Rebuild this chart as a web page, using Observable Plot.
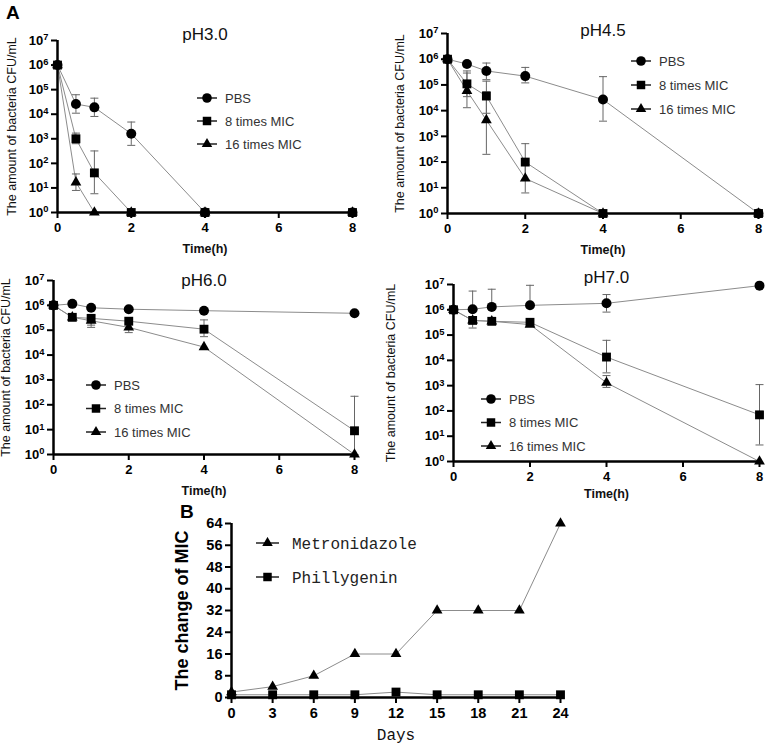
<!DOCTYPE html>
<html><head><meta charset="utf-8">
<script src="https://cdn.jsdelivr.net/npm/d3@7"></script>
<script src="https://cdn.jsdelivr.net/npm/@observablehq/plot@0.6"></script>
<style>
body{margin:0;background:#fff;}
#fig{position:relative;width:768px;height:749px;overflow:hidden;background:#fff;font-family:"Liberation Sans",Arial,sans-serif;color:#000;}
.panel{position:absolute;}
.panel svg{overflow:visible;background:transparent;}
.pA [aria-label="y-axis tick label"] text,.pA [aria-label="x-axis tick label"] text{font-weight:bold;font-size:13px;fill:#000;}
.pA [aria-label="y-axis label"] text{font-size:12.5px;fill:#111;}
.pA [aria-label="x-axis label"] text{font-size:12.5px;font-weight:bold;fill:#111;}
.pB [aria-label="y-axis tick label"] text,.pB [aria-label="x-axis tick label"] text{font-weight:bold;font-size:14.5px;fill:#000;}
.pB [aria-label="y-axis label"] text{font-family:"Liberation Sans Narrow","Liberation Sans",sans-serif;font-size:18px;font-weight:bold;fill:#000;}
.pB [aria-label="x-axis label"] text{font-family:"Liberation Mono",monospace;font-size:16px;fill:#111;}
.letter{position:absolute;font-weight:bold;font-size:19px;}
.legend{position:absolute;}
</style>
</head><body><div id="fig"></div>
<script>
// ---------- data ----------
const times = [0, 0.5, 1, 2, 4, 8];
const timeTicks = [0, 2, 4, 6, 8];
const cfuTicks = [1, 1e1, 1e2, 1e3, 1e4, 1e5, 1e6, 1e7];
const seriesNames = ["PBS", "8 times MIC", "16 times MIC"];
const panelTitles = ["pH3.0", "pH4.5", "pH6.0", "pH7.0"];

// pH3.0
const pH30_PBS   = [1e6, 2.6e4, 1.9e4, 1.6e3, 1, 1];
const pH30_PBS_hi= [null, 6.2e4, 4.5e4, 4.8e3, null, null];
const pH30_PBS_lo= [null, 1.1e4, 8.1e3, 5.4e2, null, null];
const pH30_M8    = [1e6, 1.0e3, 41, 1, 1, 1];
const pH30_M8_hi = [null, 1.7e3, 3.2e2, null, null, null];
const pH30_M8_lo = [null, 6.3e2, 5.8, null, null, null];
const pH30_M16   = [1e6, 17, 1, 1, 1, 1];
const pH30_M16_hi= [null, 37, null, null, null, null];
const pH30_M16_lo= [null, 7.9, null, null, null, null];

// pH4.5
const pH45_PBS   = [1e6, 6.5e5, 3.5e5, 2.2e5, 2.7e4, 1];
const pH45_PBS_hi= [null, null, 7.1e5, 4.8e5, 2.1e5, null];
const pH45_PBS_lo= [null, null, 1.6e5, 1.2e5, 3.9e3, null];
const pH45_M8    = [1e6, 1.1e5, 3.7e4, 1.0e2, 1, 1];
const pH45_M8_hi = [null, 3.5e5, 1.4e5, 5.2e2, null, null];
const pH45_M8_lo = [null, 3.5e4, 7.9e3, 20, null, null];
const pH45_M16   = [1e6, 5.9e4, 4.3e3, 23, 1, 1];
const pH45_M16_hi= [null, 2.9e5, 5.4e4, 80, null, null];
const pH45_M16_lo= [null, 1.3e4, 2.0e2, 6.3, null, null];

// pH6.0
const pH60_PBS   = [1e6, 1.15e6, 8e5, 7e5, 6.1e5, 4.8e5];
const pH60_PBS_hi= [null, null, null, null, null, null];
const pH60_PBS_lo= [null, null, null, null, null, null];
const pH60_M8    = [1e6, 3.3e5, 3.0e5, 2.3e5, 1.1e5, 9];
const pH60_M8_hi = [null, null, 4.0e5, null, 2.6e5, 2.2e2];
const pH60_M8_lo = [null, null, 1.6e5, null, 5.5e4, 1];
const pH60_M16   = [1e6, 3.3e5, 2.4e5, 1.3e5, 2.1e4, 1];
const pH60_M16_hi= [null, null, null, 1.9e5, null, null];
const pH60_M16_lo= [null, null, 1.3e5, 8.0e4, null, null];

// pH7.0
const pH70_PBS   = [1e6, 1.05e6, 1.3e6, 1.5e6, 1.8e6, 9e6];
const pH70_PBS_hi= [null, 5.5e6, 6.5e6, 9.3e6, 4.0e6, null];
const pH70_PBS_lo= [null, null, null, null, 8.1e5, null];
const pH70_M8    = [1e6, 3.8e5, 3.5e5, 3.2e5, 1.35e4, 70];
const pH70_M8_hi = [null, null, null, null, 6.2e4, 1.1e3];
const pH70_M8_lo = [null, 1.9e5, null, 2.5e5, 3.2e3, 4.5];
const pH70_M16   = [1e6, 3.8e5, 3.5e5, 2.6e5, 1.3e3, 1];
const pH70_M16_hi= [null, null, null, null, 2.5e3, null];
const pH70_M16_lo= [null, null, null, null, 8.5e2, null];

// Panel B
const days = [0, 3, 6, 9, 12, 15, 18, 21, 24];
const micTicks = [0, 8, 16, 24, 32, 40, 48, 56, 64];
const metronidazole = [2, 4, 8, 16, 16, 32, 32, 32, 64];
const phillygenin = [1, 1, 1, 1, 2, 1, 1, 1, 1];
const drugNames = ["Metronidazole", "Phillygenin"];

// ---------- helpers ----------
const fig = document.getElementById("fig");
const expFmt = d => "10^" + Math.round(Math.log10(d));
const capSymbol = {draw(ctx, size){ const w = Math.sqrt(size / Math.PI); ctx.moveTo(-w, 0); ctx.lineTo(w, 0); }};
const symbolFor = {"PBS": "circle", "8 times MIC": "square", "16 times MIC": "triangle"};
const d3SymbolFor = {"PBS": d3.symbolCircle, "8 times MIC": d3.symbolSquare, "16 times MIC": d3.symbolTriangle};
const drawOrder = ["PBS", "16 times MIC", "8 times MIC"];

function rowsOf(series){
  const rows = [];
  series.forEach(([name, v, hi, lo]) => {
    times.forEach((t, i) => rows.push({t, v: v[i], hi: hi[i], lo: lo[i], s: name}));
  });
  return rows;
}

// turn "10^7" tick labels into 10 with a raised exponent
function superscript(svg){
  d3.select(svg).selectAll('[aria-label="y-axis tick label"] text').each(function(){
    const t = d3.select(this); const s = t.text();
    if (!s.includes("^")) return;
    const [base, exp] = s.split("^");
    t.text(base);
    t.append("tspan").attr("dy", "-0.45em").style("font-size", "72%").text(exp);
  });
  return svg;
}

function place(node, cls, left, top){
  const div = document.createElement("div");
  div.className = "panel " + cls;
  div.style.left = left + "px"; div.style.top = top + "px";
  div.appendChild(node); fig.appendChild(div);
}

function legend(names, symMap, left, top, rowGap, opts){
  const o = Object.assign({lineW: 20, textX: 28, font: "13px 'Liberation Sans',Arial,sans-serif", color: "#333"}, opts || {});
  const w = 220, h = rowGap * names.length + 10;
  const svg = d3.create("svg").attr("width", w).attr("height", h);
  names.forEach((n, i) => {
    const y = 6 + i * rowGap;
    const g = svg.append("g").attr("transform", `translate(0,${y})`);
    g.append("line").attr("x1", 0).attr("x2", o.lineW).attr("y1", 0).attr("y2", 0).attr("stroke", "#222").attr("stroke-width", 1.5);
    const size = symMap[n] === d3.symbolTriangle ? 48 : 72;
    g.append("path").attr("d", d3.symbol(symMap[n], size)()).attr("transform", `translate(${o.lineW/2},0)`).attr("fill", "#000");
    g.append("text").attr("x", o.textX).attr("y", 0).attr("dy", "0.35em").attr("fill", o.color).style("font", o.font).text(n);
  });
  const div = document.createElement("div");
  div.className = "legend";
  div.style.left = left + "px"; div.style.top = (top - 6) + "px";
  div.appendChild(svg.node()); fig.appendChild(div);
}

function timeKill(cfg){
  const rows = rowsOf(cfg.series);
  const dots = drawOrder.flatMap(n => rows.filter(r => r.s === n));
  const errs = rows.filter(r => r.hi != null || r.lo != null).map(r => ({t: r.t, hi: r.hi ?? r.v, lo: r.lo ?? r.v, hasHi: r.hi != null, hasLo: r.lo != null}));
  return superscript(Plot.plot({
    width: 384, height: 260,
    marginLeft: cfg.ml, marginRight: cfg.mr, marginTop: cfg.mt, marginBottom: cfg.mb,
    style: {background: "transparent", color: "#000", fontFamily: "'Liberation Sans',Arial,sans-serif"},
    x: {domain: [0, 8], ticks: timeTicks},
    y: {type: "log", domain: [1, 1e7], ticks: cfuTicks, tickFormat: expFmt},
    symbol: {domain: seriesNames, range: seriesNames.map(n => symbolFor[n])},
    marks: [
      Plot.line(rows, {x: "t", y: "v", z: "s", stroke: "#8c8c8c", strokeWidth: 1}),
      Plot.ruleX(errs, {x: "t", y1: "lo", y2: "hi", stroke: "#666", strokeWidth: 1}),
      Plot.dot(errs.filter(e => e.hasHi), {x: "t", y: "hi", symbol: capSymbol, r: 4, stroke: "#666", strokeWidth: 1}),
      Plot.dot(errs.filter(e => e.hasLo), {x: "t", y: "lo", symbol: capSymbol, r: 4, stroke: "#666", strokeWidth: 1}),
      Plot.ruleY([1], {stroke: "#000", strokeWidth: 2.5}),
      Plot.ruleX([0], {stroke: "#000", strokeWidth: 2.5}),
      Plot.dot(dots.filter(d => d.s === "PBS"), {x: "t", y: "v", symbol: "s", fill: "#000", stroke: "none", r: 5}),
      Plot.dot(dots.filter(d => d.s === "16 times MIC"), {x: "t", y: "v", symbol: "s", fill: "#000", stroke: "none", r: 4}),
      Plot.dot(dots.filter(d => d.s === "8 times MIC"), {x: "t", y: "v", symbol: "s", fill: "#000", stroke: "none", r: 5}),
      Plot.axisX({ticks: timeTicks, tickSize: 6, tickPadding: 4, strokeWidth: 2, label: "Time(h)", labelAnchor: "center", labelArrow: "none", labelOffset: cfg.xlo}),
      Plot.axisY({ticks: cfuTicks, tickFormat: expFmt, tickSize: 6, tickPadding: 3, strokeWidth: 2, label: "The amount of bacteria CFU/mL", labelAnchor: "center", labelArrow: "none", labelOffset: cfg.ylo}),
      Plot.text([cfg.title], {frameAnchor: "top", lineAnchor: "middle", dy: cfg.tdy, fontSize: 17, fill: "#111", text: d => d})
    ]
  }));
}

// ---------- panels A ----------
place(timeKill({
  title: panelTitles[0], ml: 57, mr: 32, mt: 40, mb: 48, xlo: 40, ylo: 50, tdy: -6,
  series: [["PBS", pH30_PBS, pH30_PBS_hi, pH30_PBS_lo], ["8 times MIC", pH30_M8, pH30_M8_hi, pH30_M8_lo], ["16 times MIC", pH30_M16, pH30_M16_hi, pH30_M16_lo]]
}), "pA", 0, 0);
legend(seriesNames, d3SymbolFor, 197, 98, 23);

place(timeKill({
  title: panelTitles[1], ml: 63, mr: 10, mt: 33, mb: 47, xlo: 40, ylo: 52, tdy: -3,
  series: [["PBS", pH45_PBS, pH45_PBS_hi, pH45_PBS_lo], ["8 times MIC", pH45_M8, pH45_M8_hi, pH45_M8_lo], ["16 times MIC", pH45_M16, pH45_M16_hi, pH45_M16_lo]]
}), "pA", 384, 0);
legend(seriesNames, d3SymbolFor, 631, 61, 24);

place(timeKill({
  title: panelTitles[2], ml: 53, mr: 30, mt: 40, mb: 46, xlo: 40, ylo: 52, tdy: 0,
  series: [["PBS", pH60_PBS, pH60_PBS_hi, pH60_PBS_lo], ["8 times MIC", pH60_M8, pH60_M8_hi, pH60_M8_lo], ["16 times MIC", pH60_M16, pH60_M16_hi, pH60_M16_lo]]
}), "pA", 0, 240);
legend(seriesNames, d3SymbolFor, 86, 385, 23.5);

place(timeKill({
  title: panelTitles[3], ml: 69, mr: 9, mt: 44, mb: 39, xlo: 36, ylo: 67, tdy: -7,
  series: [["PBS", pH70_PBS, pH70_PBS_hi, pH70_PBS_lo], ["8 times MIC", pH70_M8, pH70_M8_hi, pH70_M8_lo], ["16 times MIC", pH70_M16, pH70_M16_hi, pH70_M16_lo]]
}), "pA", 384, 240);
legend(seriesNames, d3SymbolFor, 481, 399, 23.5);

// ---------- panel B ----------
const bRows = [];
days.forEach((d, i) => bRows.push({d, v: metronidazole[i], s: drugNames[0]}));
days.forEach((d, i) => bRows.push({d, v: phillygenin[i], s: drugNames[1]}));
place(Plot.plot({
  width: 420, height: 259, marginLeft: 51, marginRight: 40, marginTop: 33, marginBottom: 52,
  style: {background: "transparent", color: "#000", fontFamily: "'Liberation Sans',Arial,sans-serif"},
  x: {domain: [0, 24], ticks: days},
  y: {domain: [0, 64], ticks: micTicks},
  symbol: {domain: drugNames, range: ["triangle", "square"]},
  marks: [
    Plot.line(bRows, {x: "d", y: "v", z: "s", stroke: "#8c8c8c", strokeWidth: 1}),
    Plot.ruleY([0], {stroke: "#000", strokeWidth: 2.5}),
    Plot.ruleX([0], {stroke: "#000", strokeWidth: 2.5}),
    Plot.dot(bRows.filter(r => r.s === drugNames[0]), {x: "d", y: "v", symbol: "s", fill: "#000", stroke: "none", r: 4}),
    Plot.dot(bRows.filter(r => r.s === drugNames[1]), {x: "d", y: "v", symbol: "s", fill: "#000", stroke: "none", r: 5}),
    Plot.axisX({ticks: days, tickSize: 6, tickPadding: 4, strokeWidth: 2, label: "Days", labelAnchor: "center", labelArrow: "none", labelOffset: 42}),
    Plot.axisY({ticks: micTicks, tickSize: 6, tickPadding: 3, strokeWidth: 2, label: "The change of MIC", labelAnchor: "center", labelArrow: "none", labelOffset: 56})
  ]
}), "pB", 180, 490);
legend(drugNames, {"Metronidazole": d3.symbolTriangle, "Phillygenin": d3.symbolSquare}, 256, 543, 34,
  {lineW: 23, textX: 36, font: "16px 'Liberation Mono',monospace", color: "#222"});

// letters
[["A", 6, 2], ["B", 180, 501]].forEach(([t, x, y]) => {
  const d = document.createElement("div"); d.className = "letter"; d.textContent = t;
  d.style.left = x + "px"; d.style.top = y + "px"; fig.appendChild(d);
});
</script></body></html>
